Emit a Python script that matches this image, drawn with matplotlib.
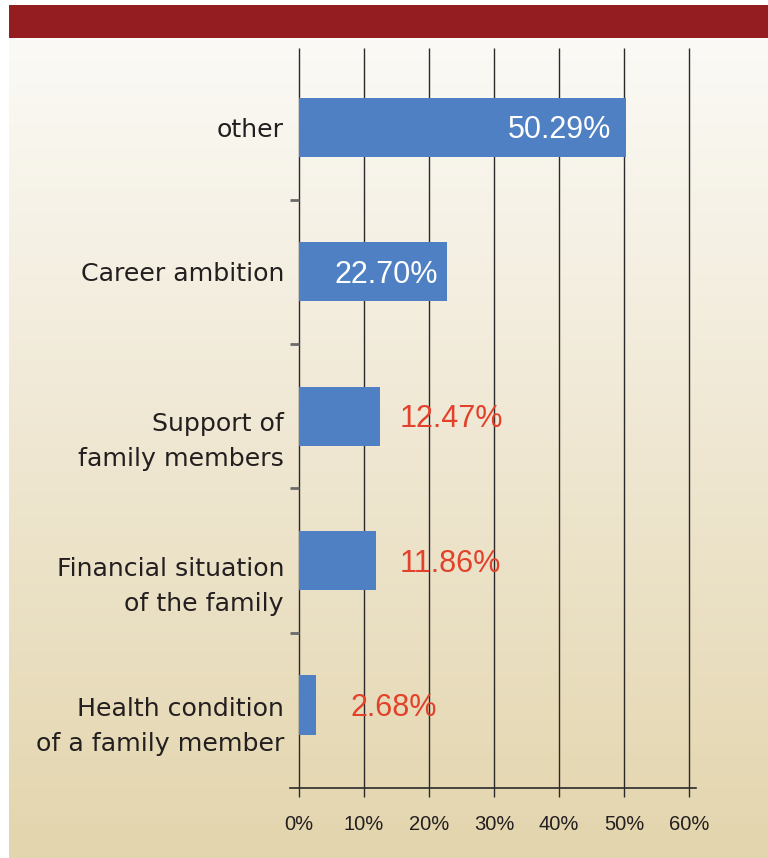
import numpy as np
import matplotlib
matplotlib.use("Agg")
import matplotlib.pyplot as plt
from matplotlib.patches import Rectangle
from matplotlib.colors import LinearSegmentedColormap

# Reasons, top to bottom, with their shares in percent
categories = ["other", "Career ambition", "Support of\nfamily members",
              "Financial situation\nof the family", "Health condition\nof a family member"]
values = [50.29, 22.70, 12.47, 11.86, 2.68]
x_ticks = [0, 10, 20, 30, 40, 50, 60]
x_tick_labels = ["0%", "10%", "20%", "30%", "40%", "50%", "60%"]

# value labels: inside the bar (white) or beside it (red), with pixel offsets
label_inside = [True, True, False, False, False]
label_offset_px = [-15, -9, 20, 24, 34]
# baseline of the first line of each category label, below the bar centre (px)
cat_baseline_px = [10, 9, 15, 15, 11]

BAR_BLUE = "#4F80C3"
LABEL_RED = "#E2412B"
TEXT_DARK = "#231F20"
LINE_DARK = "#2A2A2A"
BANNER_RED = "#931D20"

W, H, DPI = 768, 858, 100
PX = 72.0 / DPI  # points per pixel

plt.rcParams["font.family"] = ["Liberation Sans", "DejaVu Sans"]
fig = plt.figure(figsize=(W / DPI, H / DPI), dpi=DPI)
fig.patch.set_facecolor("white")

# gradient panel behind the chart
bg = fig.add_axes([9 / W, 0, (W - 9) / W, (H - 38) / H], zorder=0)
grad = np.linspace(0, 1, 256).reshape(-1, 1)
cmap = LinearSegmentedColormap.from_list("panel", ["#FBFAF6", "#EFE7D2", "#E3D5AD"])
bg.imshow(grad, aspect="auto", cmap=cmap, extent=[0, 1, 0, 1], origin="upper")
bg.set_axis_off()

# header banner
fig.patches.append(Rectangle((9 / W, (H - 38) / H), (W - 9) / W, 33 / H,
                             transform=fig.transFigure, facecolor=BANNER_RED,
                             edgecolor="none", zorder=1))

ax = fig.add_axes([290 / W, 70 / H, 406 / W, 740 / H], zorder=2)
ax.patch.set_alpha(0)

n = len(categories)
ypos = np.arange(n)[::-1]
ax.set_xlim(-1.385, 61.08)
ax.set_ylim(-0.574, 4.55)

# vertical grid lines
ax.vlines(x_ticks, -0.574, 4.55, colors=LINE_DARK, linewidth=1.0, zorder=1)

bars = ax.barh(ypos, values, height=0.41, color=BAR_BLUE, zorder=3)

for side in ["top", "right", "left"]:
    ax.spines[side].set_visible(False)
ax.spines["bottom"].set_color(LINE_DARK)
ax.spines["bottom"].set_linewidth(1.2)

ax.set_xticks(x_ticks)
ax.set_xticklabels(x_tick_labels, fontsize=14.5, color=TEXT_DARK)
ax.tick_params(axis="x", direction="out", length=9 * PX, width=1.0,
               color=LINE_DARK, pad=18 * PX)

# small separators between categories on the left edge
ax.set_yticks([])
ax.set_yticks([0.5, 1.5, 2.5, 3.5], minor=True)
ax.tick_params(axis="y", which="minor", direction="in", length=9 * PX,
               width=2.0, color="#6B6B6B", left=True, labelleft=False)

# category labels, one text per line
for yi, cat, base in zip(ypos, categories, cat_baseline_px):
    for k, line in enumerate(cat.split("\n")):
        ax.annotate(line, xy=(0, yi), xycoords="data",
                    xytext=(-15 * PX, -(base + 35 * k) * PX), textcoords="offset points",
                    ha="right", va="baseline", fontsize=18.2, color=TEXT_DARK,
                    family=["DejaVu Sans"], zorder=4)

# value labels
for yi, v, inside, off in zip(ypos, values, label_inside, label_offset_px):
    ax.annotate(f"{v:.2f}%", xy=(v, yi), xycoords="data",
                xytext=(off * PX, -3 * PX), textcoords="offset points",
                ha="right" if inside else "left", va="center",
                fontsize=22, color="white" if inside else LABEL_RED, zorder=5)

fig.savefig("out.png", dpi=DPI)
